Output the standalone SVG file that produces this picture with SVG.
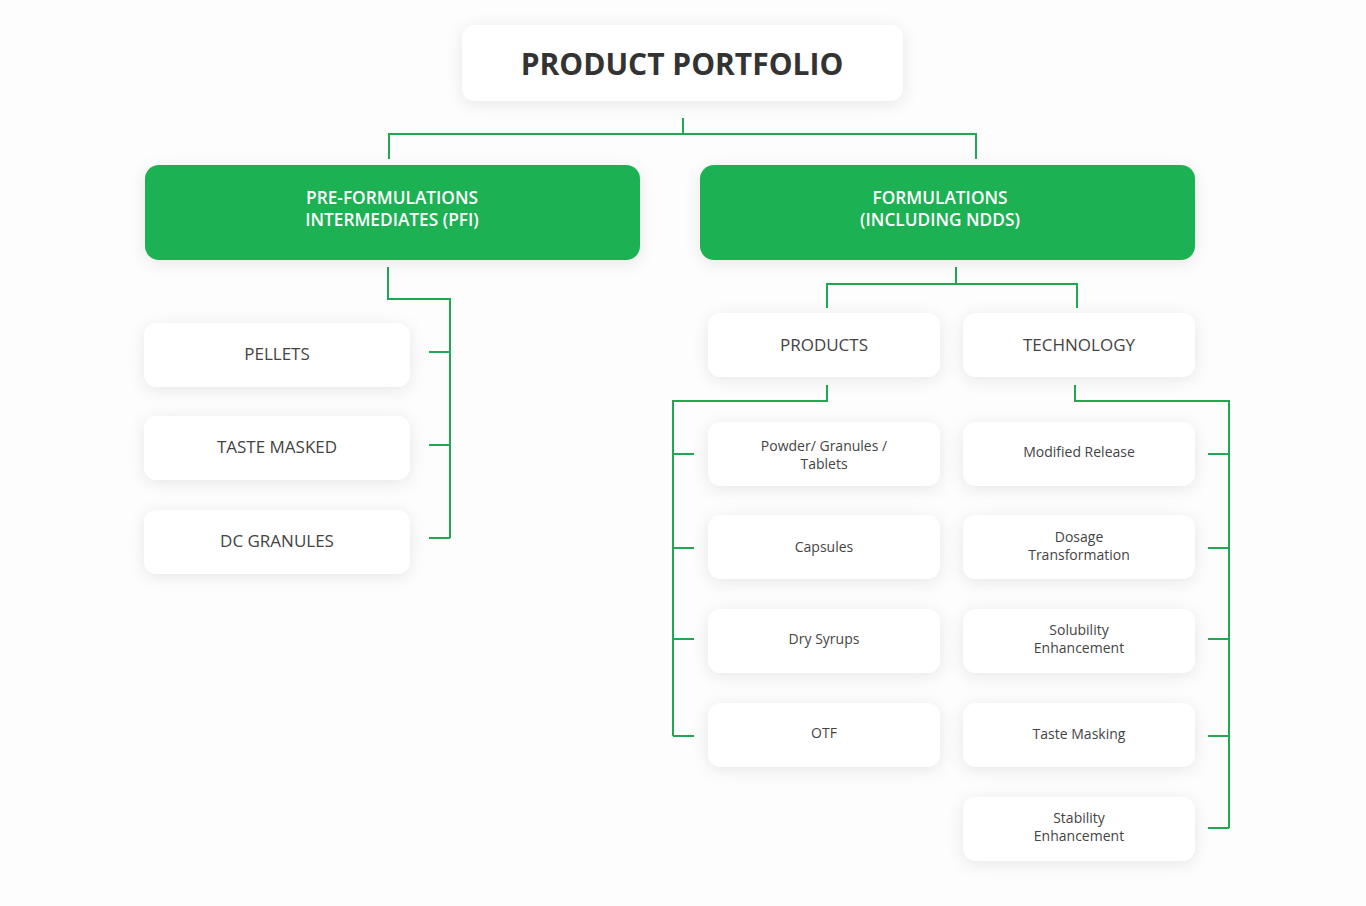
<svg xmlns="http://www.w3.org/2000/svg" width="1366" height="906" viewBox="0 0 1366 906">
<defs>
<filter id="sh" x="-20%" y="-40%" width="140%" height="180%">
<feDropShadow dx="0" dy="3" stdDeviation="8" flood-color="#000" flood-opacity="0.09"/>
</filter>
<style>
.card{fill:#fff;filter:url(#sh)}
.green{fill:#1db153;filter:url(#sh)}
.conn{fill:none;stroke:#1fa84f;stroke-width:2}
text{font-family:"Open Sans","Noto Sans","DejaVu Sans",sans-serif;text-anchor:middle;dominant-baseline:central}
.title{font-size:30px;font-weight:700;fill:#333}
.gt{font-size:17.3px;font-weight:600;fill:#fff}
.mt{font-size:17px;fill:#444}
.st{font-size:14px;fill:#444}
</style>
</defs>
<rect width="1366" height="906" fill="#fdfdfd"/>
<g id="connectors">
<path class="conn" d="M683 118V134M389 159V134H976V159"/>
<path class="conn" d="M388 267V299H450V538M429 352H450M429 445H450M429 538H450"/>
<path class="conn" d="M956 267V284M827 308V284H1077V308"/>
<path class="conn" d="M827 385V401H673V736M673 454H694M673 548H694M673 639H694M673 736H694"/>
<path class="conn" d="M1075 385V401H1229V828M1208 454H1229M1208 548H1229M1208 639H1229M1208 736H1229M1208 828H1229"/>
</g>
<g id="portfolio"><rect class="card" x="462" y="25" width="441" height="76" rx="13"/><text class="title" x="682" y="63">PRODUCT PORTFOLIO</text></g>
<g id="pfi"><rect class="green" x="145" y="165" width="495" height="95" rx="14"/><text class="gt" x="392" y="197">PRE-FORMULATIONS</text><text class="gt" x="392" y="219">INTERMEDIATES (PFI)</text></g>
<g id="formulations"><rect class="green" x="700" y="165" width="495" height="95" rx="14"/><text class="gt" x="940" y="197">FORMULATIONS</text><text class="gt" x="940" y="219">(INCLUDING NDDS)</text></g>
<g id="pellets"><rect class="card" x="144" y="323" width="266" height="64" rx="13"/><text class="mt" x="277" y="353">PELLETS</text></g>
<g id="taste-masked"><rect class="card" x="144" y="416" width="266" height="64" rx="13"/><text class="mt" x="277" y="446">TASTE MASKED</text></g>
<g id="dc-granules"><rect class="card" x="144" y="510" width="266" height="64" rx="13"/><text class="mt" x="277" y="540">DC GRANULES</text></g>
<g id="products"><rect class="card" x="708" y="313" width="232" height="64" rx="13"/><text class="mt" x="824" y="344">PRODUCTS</text></g>
<g id="technology"><rect class="card" x="963" y="313" width="232" height="64" rx="13"/><text class="mt" x="1079" y="344">TECHNOLOGY</text></g>
<g id="powder"><rect class="card" x="708" y="422" width="232" height="64" rx="13"/><text class="st" x="824" y="445">Powder/ Granules /</text><text class="st" x="824" y="463">Tablets</text></g>
<g id="capsules"><rect class="card" x="708" y="515" width="232" height="64" rx="13"/><text class="st" x="824" y="546">Capsules</text></g>
<g id="dry-syrups"><rect class="card" x="708" y="609" width="232" height="64" rx="13"/><text class="st" x="824" y="638">Dry Syrups</text></g>
<g id="otf"><rect class="card" x="708" y="703" width="232" height="64" rx="13"/><text class="st" x="824" y="732">OTF</text></g>
<g id="modified-release"><rect class="card" x="963" y="422" width="232" height="64" rx="13"/><text class="st" x="1079" y="451">Modified Release</text></g>
<g id="dosage"><rect class="card" x="963" y="515" width="232" height="64" rx="13"/><text class="st" x="1079" y="536">Dosage</text><text class="st" x="1079" y="554">Transformation</text></g>
<g id="solubility"><rect class="card" x="963" y="609" width="232" height="64" rx="13"/><text class="st" x="1079" y="629">Solubility</text><text class="st" x="1079" y="647">Enhancement</text></g>
<g id="taste-masking"><rect class="card" x="963" y="703" width="232" height="64" rx="13"/><text class="st" x="1079" y="733">Taste Masking</text></g>
<g id="stability"><rect class="card" x="963" y="797" width="232" height="64" rx="13"/><text class="st" x="1079" y="817">Stability</text><text class="st" x="1079" y="835">Enhancement</text></g>
</svg>
